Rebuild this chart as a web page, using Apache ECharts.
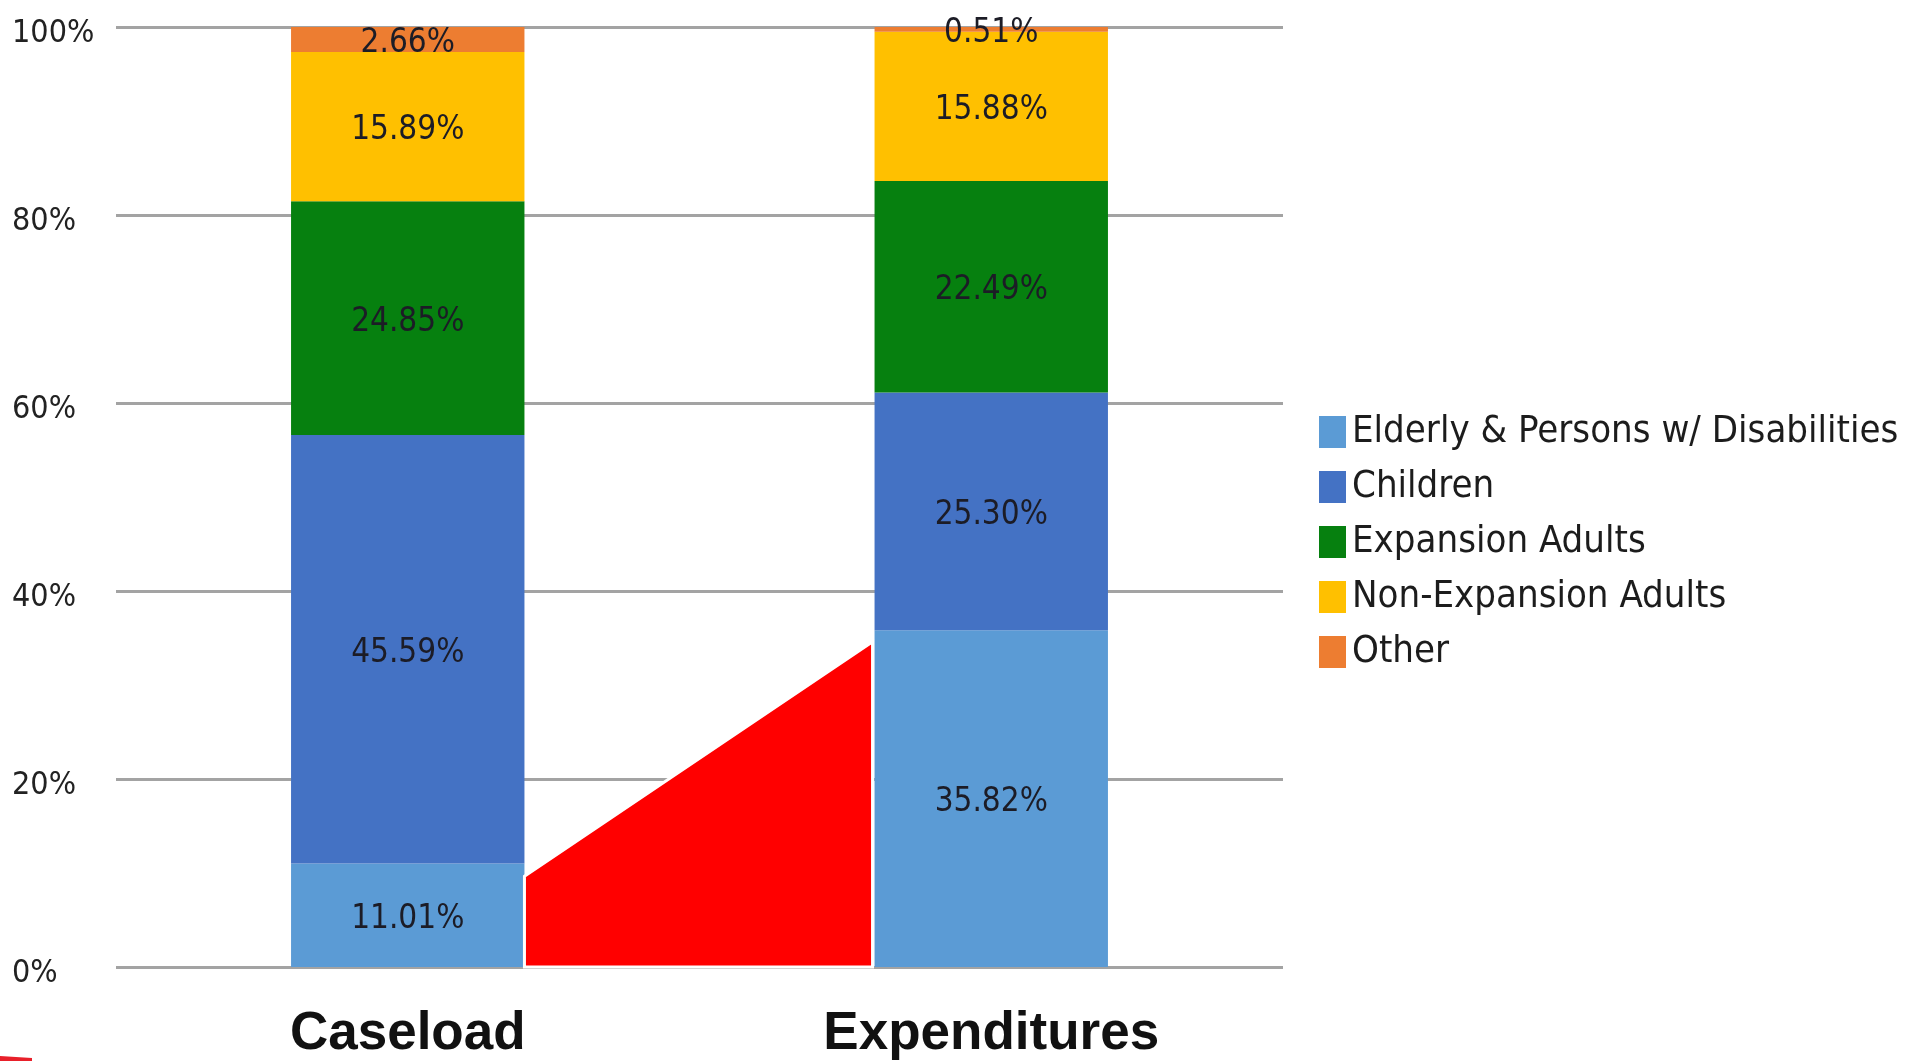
<!DOCTYPE html>
<html>
<head>
<meta charset="utf-8">
<script src="https://cdn.jsdelivr.net/npm/echarts@6/dist/echarts.min.js"></script>
<style>
html,body{margin:0;padding:0;background:#fff;}
#chart{width:1919px;height:1061px;}
</style>
</head>
<body>
<div id="chart"></div>
<script>
const categories = ['Caseload', 'Expenditures'];
const seriesNames = ['Elderly & Persons w/ Disabilities', 'Children', 'Expansion Adults', 'Non-Expansion Adults', 'Other'];
const elderly = [11.01, 35.82];
const children = [45.59, 25.30];
const expansion = [24.85, 22.49];
const nonExpansion = [15.89, 15.88];
const other = [2.66, 0.51];
const yTicks = [0, 20, 40, 60, 80, 100];
// red annotation wedge heights (percent) at Caseload right edge and Expenditures left edge
const wedgeTop = [9.66, 34.6];

const colors = ['#5b9bd5', '#4472c4', '#06800f', '#ffc000', '#ed7d31'];
const values = [elderly, children, expansion, nonExpansion, other];
const condFont = '"DejaVu Sans Condensed", "DejaVu Sans", sans-serif';

const chart = echarts.init(document.getElementById('chart'), null, {renderer: 'canvas'});

const barSeries = seriesNames.map((name, i) => ({
  name: name,
  type: 'bar',
  stack: 'total',
  barWidth: '40%',
  data: values[i],
  itemStyle: {color: colors[i]},
  label: {
    show: true,
    position: 'inside',
    offset: [0, 4],
    formatter: p => p.value.toFixed(2) + '%',
    fontFamily: condFont,
    fontSize: 33,
    color: '#1c1c26'
  },
  emphasis: {disabled: true}
}));

const wedge = {
  type: 'custom',
  silent: true,
  clip: false,
  z: 5,
  data: [[0, wedgeTop[0], 1, wedgeTop[1]]],
  renderItem: function (params, api) {
    const bw = api.size([1, 0])[0];
    const half = bw * 0.2;
    const pA = api.coord([0, api.value(1)]);
    const pB = api.coord([1, api.value(3)]);
    const base = api.coord([0, 0])[1];
    const xl = pA[0] + half;
    const xr = pB[0] - half - 2;
    return {
      type: 'polygon',
      shape: {points: [[xl, pA[1]], [xr, pB[1]], [xr, base], [xl, base]]},
      style: {fill: '#ff0000', stroke: '#ffffff', lineWidth: 3}
    };
  }
};

chart.setOption({
  backgroundColor: '#ffffff',
  animation: false,
  grid: {left: 116, right: 636, top: 27, bottom: 93, containLabel: false},
  legend: {
    orient: 'vertical',
    left: 1319,
    top: 413,
    padding: 0,
    data: seriesNames,
    icon: 'rect',
    itemWidth: 27,
    itemHeight: 32,
    itemGap: 17,
    selectedMode: false,
    textStyle: {fontFamily: condFont, fontSize: 38, color: '#1c1c1c', padding: [0, 0, 0, 1]}
  },
  xAxis: {
    type: 'category',
    data: categories,
    axisLine: {show: false},
    axisTick: {show: false},
    axisLabel: {
      margin: 41,
      fontFamily: '"Liberation Sans", Arial, sans-serif',
      fontWeight: 'bold',
      fontSize: 53,
      color: '#111111'
    }
  },
  yAxis: {
    type: 'value',
    min: yTicks[0],
    max: yTicks[yTicks.length - 1],
    interval: yTicks[1] - yTicks[0],
    axisLine: {show: false},
    axisTick: {show: false},
    axisLabel: {
      formatter: '{value}%',
      align: 'left',
      verticalAlign: 'top',
      lineHeight: 14,
      margin: 104,
      fontFamily: condFont,
      fontSize: 32,
      color: '#222222'
    },
    splitLine: {show: true, lineStyle: {color: '#a3a3a3', width: 3}}
  },
  graphic: [{
    type: 'polygon',
    shape: {points: [[0, 1056], [32, 1058], [32, 1061], [0, 1061]]},
    style: {fill: '#e8202a'}
  }],
  series: barSeries.concat([wedge])
});
</script>
</body>
</html>
